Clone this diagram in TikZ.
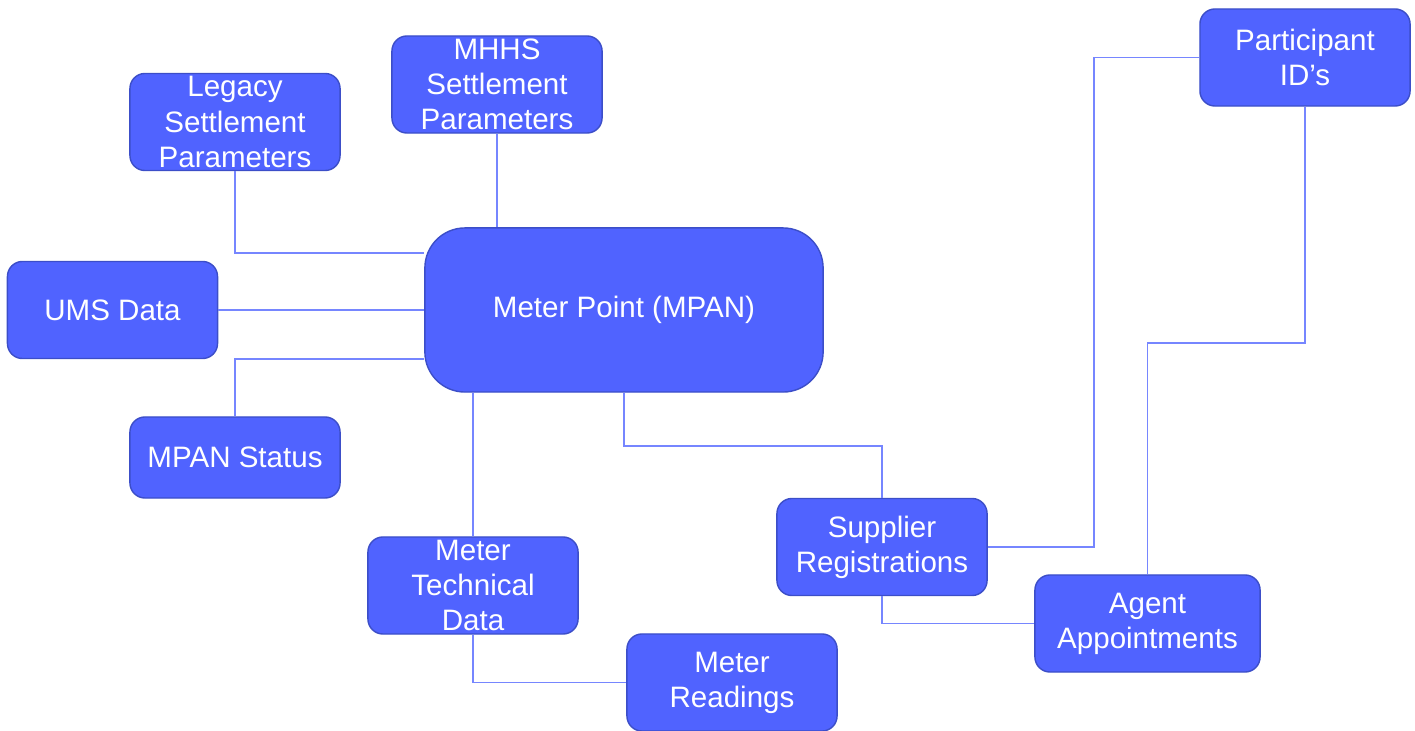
\documentclass[tikz,border=0pt]{standalone}
\usepackage{fontspec}
\setmainfont{Liberation Sans}
\usepackage{tikz}
\definecolor{boxfill}{RGB}{80,99,255}
\definecolor{boxedge}{RGB}{60,78,200}
\definecolor{linkblue}{RGB}{118,134,255}

\begin{document}
\begin{tikzpicture}[x=0.01cm, y=-0.01cm,
    box/.style={draw=boxedge, fill=boxfill, text=white, rounded corners=0.15cm,
      align=center, inner sep=0pt, minimum width=2.1cm, minimum height=0.97cm,
      font=\fontsize{8.4}{10}\selectfont},
    link/.style={draw=linkblue, line width=0.5pt}]
      \useasboundingbox (0, 0) rectangle (1415, 731);

      \node[box, minimum width=3.98cm, minimum height=1.64cm, rounded corners=0.4cm](mpan) at (624, 310) {Meter Point (MPAN)};

      \node[box](legacy) at (235, 122) {Legacy\\Settlement\\Parameters};
      \node[box](mhhs) at (497, 84.5) {MHHS\\Settlement\\Parameters};
      \node[box](ums) at (112.5, 310) {UMS Data};
      \node[box, minimum height=0.81cm](status) at (235, 457.5) {MPAN Status};
      \node[box](technical) at (473, 585.5) {Meter\\Technical\\Data};
      \node[box](readings) at (732, 682.5) {Meter\\Readings};
      \node[box](supplier) at (882, 547) {Supplier\\Registrations};
      \node[box, minimum width=2.25cm](agent) at (1147.5, 623.5) {Agent\\Appointments};
      \node[box](participant) at (1305, 57.5) {Participant\\ID’s};

      \draw[link] (legacy.south) |- ([yshift=0.57cm]mpan.west);
      \draw[link] (mhhs.south) -- (mhhs.south |- mpan.north);
      \draw[link] (ums.east) -- (mpan.west);
      \draw[link] (status.north) |- ([yshift=-0.49cm]mpan.west);
      \draw[link] (technical.north |- mpan.south) -- (technical.north);
      \draw[link] (technical.south) |- (readings.west);
      \draw[link] (mpan.south) -- ++(0, 53) -| (supplier.north);
      \draw[link] (supplier.east) -- ++(106, 0) |- (participant.west);
      \draw[link] (participant.south) -- ++(0, 236) -| (agent.north);
      \draw[link] (supplier.south) |- (agent.west);
    \end{tikzpicture}
\end{document}
